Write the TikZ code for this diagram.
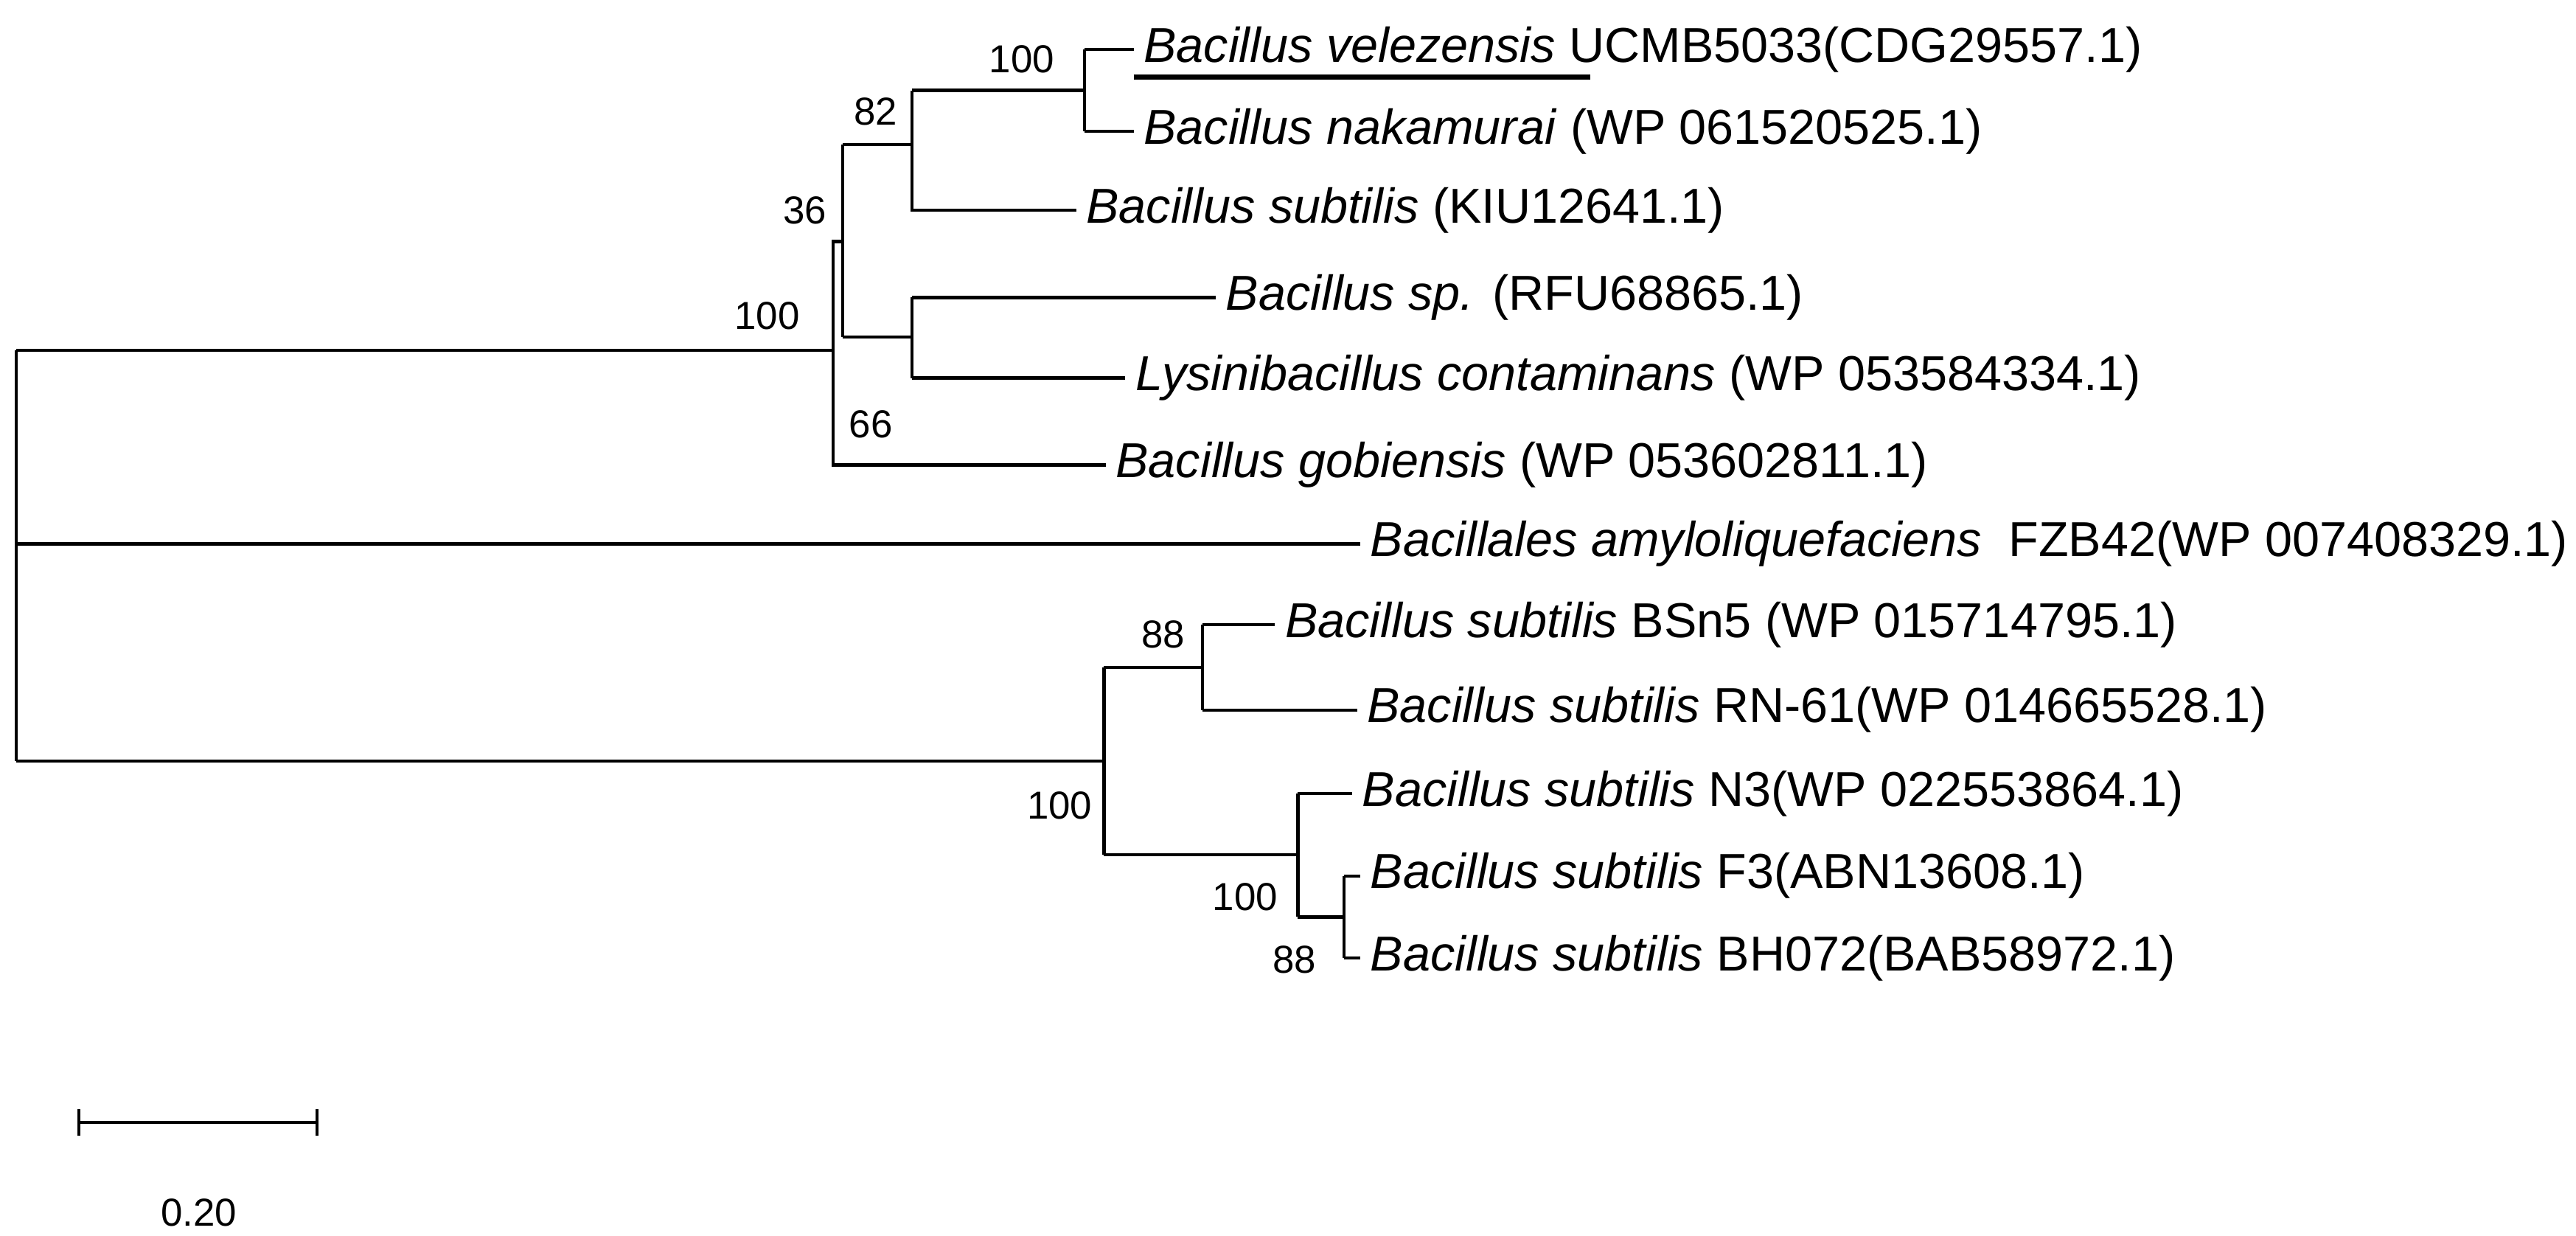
\documentclass[tikz,border=0pt]{standalone}
\usepackage{fontspec}
\setmainfont{Liberation Sans}
\begin{document}
\begin{tikzpicture}[x=0.02cm,y=-0.02cm,line width=1.1pt,
 leaf/.style={anchor=west,inner sep=3pt,font=\fontsize{17}{20}\selectfont},
 bs/.style={font=\fontsize{13.5}{16}\selectfont,inner sep=1pt},
 pt/.style={coordinate}]
\useasboundingbox (0,0) rectangle (1568,752);
% internal nodes
\coordinate (r1) at (10,213); \coordinate (r2) at (10,331); \coordinate (r3) at (10,463);
\coordinate (A) at (507,215);
\coordinate (B) at (513,147);
\coordinate (C) at (555,88);
\coordinate (D) at (660,55);
\coordinate (E) at (555,205);
\coordinate (F) at (672,410);
\coordinate (G) at (732,406);
\coordinate (H) at (790,520);
\coordinate (I) at (818,558);
% leaves
\node[leaf] (l1) at (690,30) {\textit{Bacillus velezensis} UCMB5033(CDG29557.1)};
\node[leaf] (l2) at (690,80) {\textit{Bacillus nakamurai} (WP 061520525.1)};
\node[leaf] (l3) at (655,128) {\textit{Bacillus subtilis} (KIU12641.1)};
\node[leaf] (l4) at (740,181) {\textit{Bacillus sp.} (RFU68865.1)};
\node[leaf] (l5) at (685,230) {\textit{Lysinibacillus contaminans} (WP 053584334.1)};
\node[leaf] (l6) at (673,283) {\textit{Bacillus gobiensis} (WP 053602811.1)};
\node[leaf] (l7) at (828,331) {\textit{Bacillales amyloliquefaciens} \ FZB42(WP 007408329.1)};
\node[leaf] (l8) at (776,380) {\textit{Bacillus subtilis} BSn5 (WP 015714795.1)};
\node[leaf] (l9) at (826,432) {\textit{Bacillus subtilis} RN-61(WP 014665528.1)};
\node[leaf] (l10) at (823,483) {\textit{Bacillus subtilis} N3(WP 022553864.1)};
\node[leaf] (l11) at (828,533) {\textit{Bacillus subtilis} F3(ABN13608.1)};
\node[leaf] (l12) at (828,583) {\textit{Bacillus subtilis} BH072(BAB58972.1)};
% root
\draw (r1) -- (r3);
\draw (r1) -- (A|-r1) -- (A|-B) -- (B);
\draw (r2) -- (l7.west);
\draw (r3) -- (F|-r3);
\draw (A|-B) -- (A|-l6) -- (l6.west);
\draw (B|-C) -- (B|-E);
\draw (B|-C) -- (C); \draw (B|-E) -- (E);
\draw (C|-D) -- (C|-l3) -- (l3.west);
\draw (C|-D) -- (D);
\draw (D|-l1) -- (D|-l2);
\draw (D|-l1) -- (l1.west); \draw (D|-l2) -- (l2.west);
\draw (E|-l4) -- (E|-l5);
\draw (E|-l4) -- (l4.west); \draw (E|-l5) -- (l5.west);
\draw (F|-G) -- (F|-H);
\draw (F|-G) -- (G); \draw (F|-H) -- (H);
\draw (G|-l8) -- (G|-l9);
\draw (G|-l8) -- (l8.west); \draw (G|-l9) -- (l9.west);
\draw (H|-l10) -- (H|-I);
\draw (H|-l10) -- (l10.west); \draw (H|-I) -- (I);
\draw (I|-l11) -- (I|-l12);
\draw (I|-l11) -- (l11.west); \draw (I|-l12) -- (l12.west);
% underline
\coordinate (u1) at (690,47); \coordinate (u2) at (968,47);
\draw[line width=1.8pt] (u1) -- (u2);
% bootstrap
\node[bs] (b1) at (622,36) {100};
\node[bs] (b2) at (533,68) {82};
\node[bs] (b3) at (490,128) {36};
\node[bs] (b4) at (467,192) {100};
\node[bs] (b5) at (530,258) {66};
\node[bs] (b6) at (708,386) {88};
\node[bs] (b7) at (645,490) {100};
\node[bs] (b8) at (758,546) {100};
\node[bs] (b9) at (788,584) {88};
% scale bar
\coordinate (s1) at (48,683); \coordinate (s2) at (193,683);
\draw (s1) -- (s2);
\draw ([yshift=0.16cm]s1) -- ([yshift=-0.16cm]s1);
\draw ([yshift=0.16cm]s2) -- ([yshift=-0.16cm]s2);
\node[bs] (sl) at (121,738) {0.20};
\end{tikzpicture}
\end{document}
